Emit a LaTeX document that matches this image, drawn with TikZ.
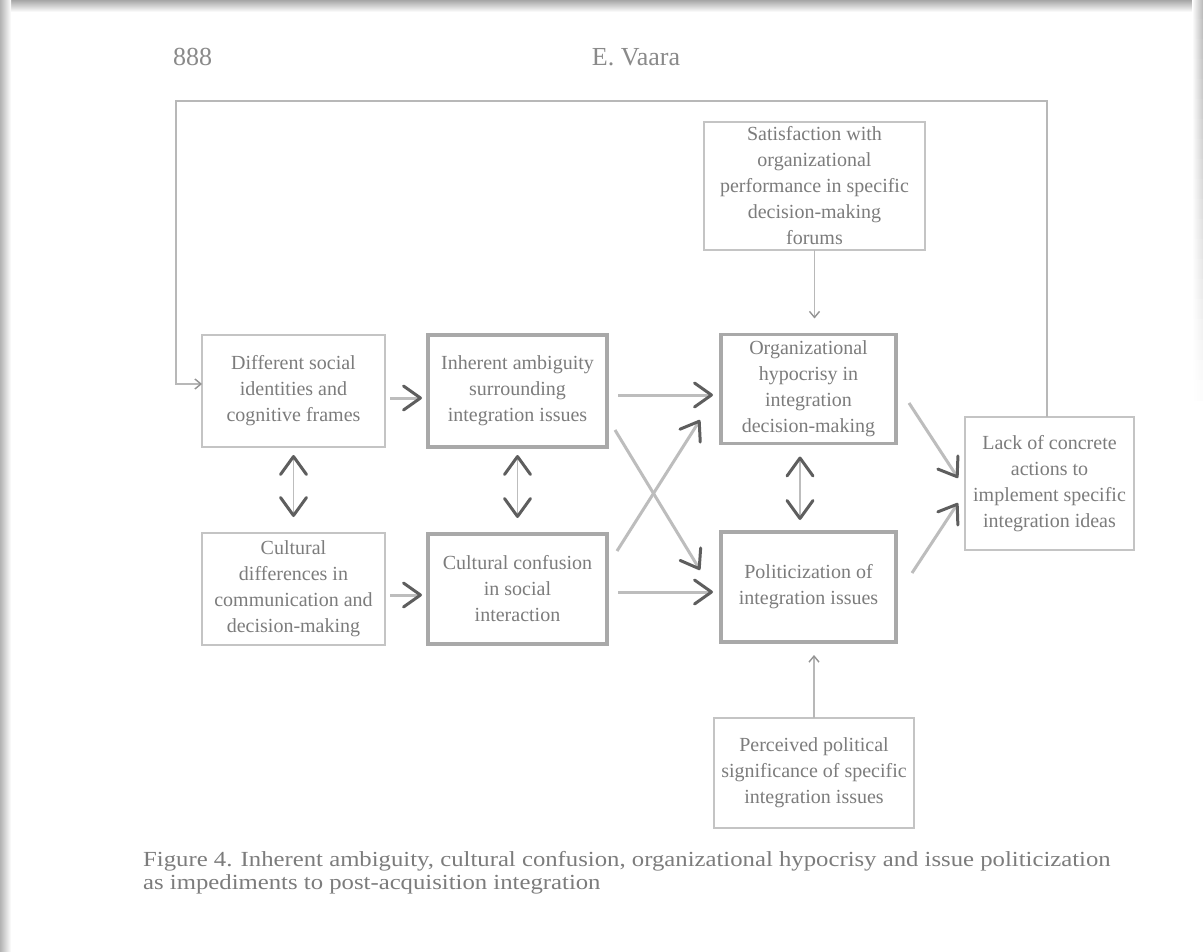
\documentclass[tikz,border=0pt]{standalone}
\usepackage{fontspec}
\setmainfont{Liberation Serif}
\newfontfamily\capfont[FakeStretch=1.15]{Liberation Serif}
\usetikzlibrary{arrows.meta,calc}

\definecolor{txt}{HTML}{7C7C7C}
\definecolor{hdr}{HTML}{8A8A8A}
\definecolor{thinline}{HTML}{C4C4C4}
\definecolor{thickline}{HTML}{A9A9A9}
\definecolor{shaft}{HTML}{BDBDBD}
\definecolor{tipc}{HTML}{5E5E5E}
\definecolor{fbline}{HTML}{B8B8B8}

\begin{document}
\begin{tikzpicture}[x=1pt,y=-1pt,
  box/.style={draw=thinline, line width=1.5pt, text=txt, align=center,
    inner sep=0pt, outer sep=0pt, font=\fontsize{20}{26}\selectfont},
  thickbox/.style={box, draw=thickline, line width=3.5pt},
  bigarrow/.style={draw=shaft, line width=3pt,
    -{Straight Barb[length=17pt,width=24pt,line width=3pt,color=tipc,round]}},
  dbl/.style={draw=shaft, line width=1.6pt,
    {Straight Barb[length=18pt,width=26pt,line width=3pt,color=tipc,round]}-{Straight Barb[length=18pt,width=26pt,line width=3pt,color=tipc,round]}},
  thinarr/.style={draw=fbline, line width=1.4pt,
    -{Straight Barb[length=6pt,width=10pt,line width=1.4pt,color=fbline!80!black]}},
]
\useasboundingbox (0,0) rectangle (1203,952);
\fill[white] (0,0) rectangle (1203,952);

% page shadow along the top, left and right edges
\shade[top color=black!35, bottom color=white] (0,0) rectangle (1203,12);
\shade[left color=black!30, right color=white] (0,0) rectangle (11,952);
% right edge shadow, growing fainter downwards
\foreach \i in {0,...,19}{
  \pgfmathsetmacro{\sh}{28*(1-\i/20)}
  \shade[left color=white, right color=black!\sh] (1192,{\i*20}) rectangle (1203,{\i*20+20.5});
}

% running head
\node[anchor=base west, font=\fontsize{26}{30}\selectfont, text=hdr, inner sep=0] (pg) at (173,66) {888};
\node[anchor=base, font=\fontsize{26}{30}\selectfont, text=hdr, inner sep=0] (au) at (636,66) {E. Vaara};

% boxes
\node[box, minimum width=183pt, minimum height=112pt] (b1) at (293.5,391)
  {Different social\\identities and\\cognitive frames};
\node[thickbox, minimum width=179pt, minimum height=112pt] (b2) at (517.5,391)
  {Inherent ambiguity\\surrounding\\integration issues};
\node[box, minimum width=183pt, minimum height=112pt] (b3) at (293.5,589)
  {Cultural\\differences in\\communication and\\decision-making};
\node[thickbox, minimum width=179pt, minimum height=110pt] (b4) at (517.5,589)
  {Cultural confusion\\in social\\interaction};
\node[thickbox, minimum width=175pt, minimum height=109pt] (b5) at (808.5,389)
  {Organizational\\hypocrisy in\\integration\\decision-making};
\node[thickbox, minimum width=175pt, minimum height=110pt] (b6) at (808.5,587)
  {Politicization of\\integration issues};
\node[box, minimum width=221pt, minimum height=128pt] (b7) at (814.5,186)
  {Satisfaction with\\organizational\\performance in specific\\decision-making\\forums};
\node[box, minimum width=200pt, minimum height=110pt] (b8) at (814,773)
  {Perceived political\\significance of specific\\integration issues};
\node[box, minimum width=169pt, minimum height=133pt] (b9) at (1049.5,483.5)
  {Lack of concrete\\actions to\\implement specific\\integration ideas};

% feedback loop over the top
\coordinate (fb) at (176,101);
\draw[thinarr] ($(b9.north)+(-2.5,0)$) |- (fb) |- ($(b1.west)+(0,-7)$);

% horizontal arrows
\draw[bigarrow, shorten <=5pt, shorten >=6pt] ($(b1.east)+(0,7)$) -- ($(b2.west)+(0,7)$);
\draw[bigarrow, shorten <=5pt, shorten >=6pt] ($(b3.east)+(0,6)$) -- ($(b4.west)+(0,6)$);
\draw[bigarrow] ($(b2.east)+(11,4)$) -- ($(b5.west)+(-8,6)$);
\draw[bigarrow] ($(b4.east)+(11,3)$) -- ($(b6.west)+(-8,5)$);

% crossing arrows
\draw[bigarrow] ($(b2.east)+(8,39)$) -- ($(b6.west)+(-21,-17)$);
\draw[bigarrow] ($(b4.east)+(10,-38)$) -- ($(b5.west)+(-21,31)$);

% arrows into the outcome box
\draw[bigarrow] ($(b5.east)+(13,14)$) -- ($(b9.west)+(-7,-5.5)$);
\draw[bigarrow] ($(b6.east)+(16,-14)$) -- ($(b9.west)+(-7,19.5)$);

% two-way arrows
\draw[dbl, shorten <=8pt, shorten >=16pt] (b1.south) -- (b3.north);
\draw[dbl, shorten <=8pt, shorten >=16pt] (b2.south) -- (b4.north);
\draw[dbl, shorten <=13pt, shorten >=12pt] ($(b5.south)+(-8.5,0)$) -- ($(b6.north)+(-8.5,0)$);

% moderating influences
\draw[thinarr, shorten >=16pt] (b7.south) -- (b7.south |- b5.north);
\draw[thinarr, shorten >=13pt] (b8.north) -- (b8.north |- b6.south);

% caption
\node[anchor=north west, align=left, font=\capfont\fontsize{21.5}{23}\selectfont, text=txt, inner sep=0pt] (cap) at (143,851)
  {Figure 4. Inherent ambiguity, cultural confusion, organizational hypocrisy and issue politicization\\
   as impediments to post-acquisition integration};
\end{tikzpicture}
\end{document}
